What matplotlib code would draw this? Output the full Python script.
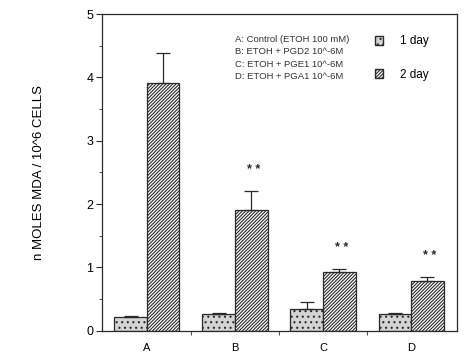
import numpy as np
import matplotlib.pyplot as plt
from matplotlib.patches import Patch
from matplotlib.ticker import MultipleLocator, FixedLocator

plt.rcParams['font.family'] = ['Liberation Sans', 'DejaVu Sans']
plt.rcParams['hatch.linewidth'] = 0.8

groups = ["A", "B", "C", "D"]
day1 = [0.22, 0.27, 0.34, 0.27]
day1_err = [0.01, 0.01, 0.11, 0.01]
day2 = [3.91, 1.91, 0.93, 0.79]
day2_err = [0.48, 0.30, 0.04, 0.06]
signif = [False, True, True, True]
notes = ["A: Control (ETOH 100 mM)",
         "B: ETOH + PGD2 10^-6M",
         "C: ETOH + PGE1 10^-6M",
         "D: ETOH + PGA1 10^-6M"]

x = np.arange(len(groups))
w = 0.37
ink = "#2a2a2a"
gray = "#d4d4d4"

fig = plt.figure(figsize=(4.76, 3.6), dpi=100)
ax = fig.add_axes([0.214, 0.081, 0.746, 0.880])

ax.bar(x - w / 2, day1, w, color=gray, edgecolor=ink, hatch="...",
       linewidth=0.9, label="1 day")
ax.bar(x + w / 2, day2, w, color="white", edgecolor=ink, hatch="//////////",
       linewidth=0.9, label="2 day")
ax.errorbar(x - w / 2, day1, yerr=[np.zeros(4), day1_err], fmt="none",
            ecolor=ink, elinewidth=0.9, capsize=5, capthick=0.9)
ax.errorbar(x + w / 2, day2, yerr=[np.zeros(4), day2_err], fmt="none",
            ecolor=ink, elinewidth=0.9, capsize=5, capthick=0.9)

# significance marks
for i in range(len(groups)):
    if signif[i]:
        ax.text(x[i] + w / 2 + 0.03, day2[i] + day2_err[i] + 0.33, "* *",
                ha="center", va="center", fontsize=9, fontweight="bold", color=ink)

ax.set_xlim(-0.51, 3.52)
ax.set_ylim(0, 5)
ax.set_xticks(x)
ax.set_xticklabels(groups, fontsize=8)
ax.xaxis.set_minor_locator(FixedLocator([0.5, 1.5, 2.5]))
ax.tick_params(axis="x", which="major", length=0, pad=9)
ax.tick_params(axis="x", which="minor", length=3, direction="out", color=ink)
ax.yaxis.set_major_locator(MultipleLocator(1))
ax.yaxis.set_minor_locator(MultipleLocator(0.5))
ax.tick_params(axis="y", which="major", length=4, labelsize=9, pad=2, color=ink)
ax.tick_params(axis="y", which="minor", length=2.5, color=ink)
for s in ax.spines.values():
    s.set_color(ink)
    s.set_linewidth(0.9)

ax.set_ylabel("n MOLES MDA / 10^6 CELLS", fontsize=9.5, labelpad=30)

ax.text(0.375, 0.934, "\n".join(notes), transform=ax.transAxes,
        ha="left", va="top", fontsize=6.8, linespacing=1.5, color="#333333")

handles = [Patch(facecolor=gray, edgecolor=ink, hatch="...", label="1 day"),
           Patch(facecolor="white", edgecolor=ink, hatch="//////////", label="2 day")]
ax.legend(handles=handles, loc="upper left", bbox_to_anchor=(0.768, 0.933),
          frameon=False, fontsize=8.5, handlelength=0.75, handleheight=0.8,
          handletextpad=1.4, labelspacing=1.8, borderpad=0, borderaxespad=0)

fig.savefig("out.png", dpi=100)
